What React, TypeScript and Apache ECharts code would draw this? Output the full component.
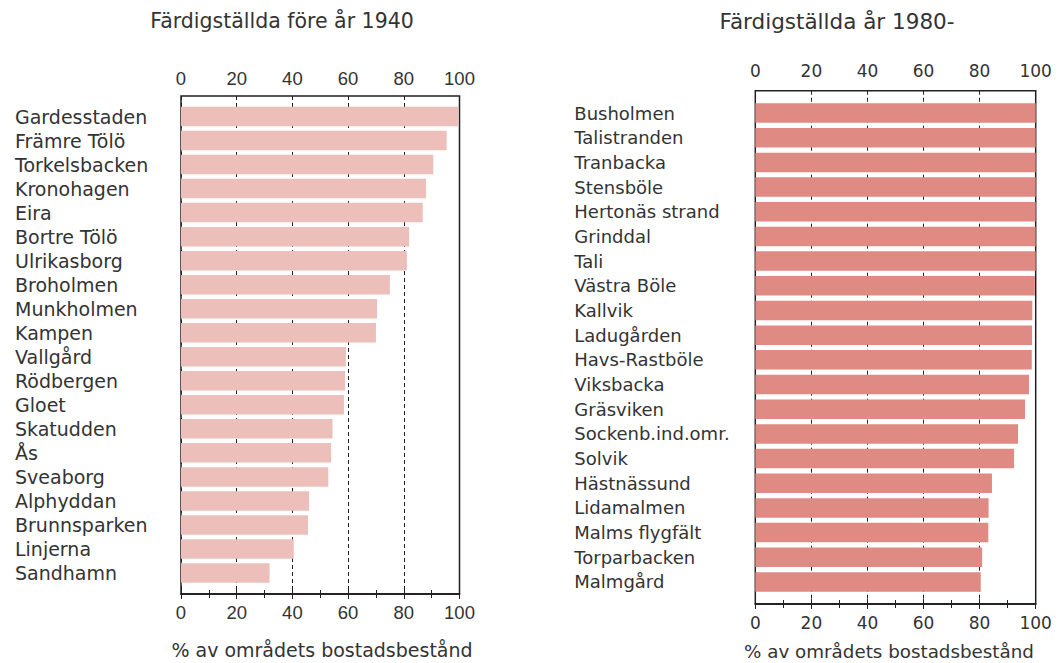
import React, { useEffect, useRef } from "react";
import * as echarts from "echarts";

const leftTitle = "Färdigställda före år 1940";
const rightTitle = "Färdigställda år 1980-";
const axisTitle = "% av områdets bostadsbestånd";

const leftCats = [
  "Gardesstaden", "Främre Tölö", "Torkelsbacken", "Kronohagen", "Eira",
  "Bortre Tölö", "Ulrikasborg", "Broholmen", "Munkholmen", "Kampen",
  "Vallgård", "Rödbergen", "Gloet", "Skatudden", "Ås",
  "Sveaborg", "Alphyddan", "Brunnsparken", "Linjerna", "Sandhamn",
];
const leftVals = [
  99.6, 95.4, 90.6, 88.0, 86.8,
  81.9, 81.1, 75.0, 70.4, 70.0,
  59.2, 58.9, 58.5, 54.4, 53.9,
  52.9, 46.0, 45.6, 40.5, 31.8,
];

const rightCats = [
  "Busholmen", "Talistranden", "Tranbacka", "Stensböle", "Hertonäs strand",
  "Grinddal", "Tali", "Västra Böle", "Kallvik", "Ladugården",
  "Havs-Rastböle", "Viksbacka", "Gräsviken", "Sockenb.ind.omr.", "Solvik",
  "Hästnässund", "Lidamalmen", "Malms flygfält", "Torparbacken", "Malmgård",
];
const rightVals = [
  100, 100, 100, 100, 100,
  100, 100, 99.7, 98.8, 98.7,
  98.6, 97.6, 96.2, 93.7, 92.3,
  84.4, 83.2, 83.1, 80.9, 80.4,
];

const axisMin = 0;
const axisMax = 100;
const axisStep = 20;

const frameColor = "#231f20";
const textColor = "#333333";

function boxAxis(gridIndex: number, position: string, font: string, size: number, margin: number, split: boolean) {
  return {
    type: "value",
    gridIndex,
    position,
    min: axisMin,
    max: axisMax,
    interval: axisStep,
    axisLine: { show: true, lineStyle: { color: frameColor, width: 1.5 } },
    axisTick: { show: true, inside: true, length: 5, lineStyle: { color: frameColor, width: 1 } },
    minorTick: { show: true, splitNumber: 2, length: 4, lineStyle: { color: frameColor, width: 1 } },
    splitLine: split
      ? { show: true, lineStyle: { color: frameColor, width: 1, type: [4, 3] } }
      : { show: false },
    axisLabel: { color: textColor, fontFamily: font, fontSize: size, margin },
  };
}

export default function App() {
  const ref = useRef<HTMLDivElement>(null);
  useEffect(() => {
    if (!ref.current) return;
    const chart = echarts.init(ref.current, null, { renderer: "svg" });
    const option = {
      animation: false,
      grid: [
        { left: 181, top: 96, width: 278.5, height: 498, show: true, borderColor: frameColor, borderWidth: 1.5, backgroundColor: "transparent" },
        { left: 181, top: 104.5, width: 278.5, height: 480.5 },
        { left: 755.3, top: 90.7, width: 280.4, height: 513.3, show: true, borderColor: frameColor, borderWidth: 1.5, backgroundColor: "transparent" },
        { left: 755.3, top: 100.7, width: 280.4, height: 493.6 },
      ],
      xAxis: [
        boxAxis(0, "top", "Liberation Sans", 18.5, 8, true),
        boxAxis(0, "bottom", "Liberation Sans", 18.5, 9, false),
        { type: "value", gridIndex: 1, min: axisMin, max: axisMax, show: false },
        boxAxis(2, "top", "DejaVu Sans", 17, 11, true),
        boxAxis(2, "bottom", "DejaVu Sans", 17, 10, false),
        { type: "value", gridIndex: 3, min: axisMin, max: axisMax, show: false },
      ],
      yAxis: [
        { type: "value", gridIndex: 0, show: false },
        {
          type: "category", gridIndex: 1, data: leftCats, inverse: true,
          axisLine: { show: false }, axisTick: { show: false }, splitLine: { show: false },
          axisLabel: { interval: 0, hideOverlap: false, align: "left", margin: 166, color: textColor, fontFamily: "DejaVu Sans", fontSize: 19 },
        },
        { type: "value", gridIndex: 2, show: false },
        {
          type: "category", gridIndex: 3, data: rightCats, inverse: true,
          axisLine: { show: false }, axisTick: { show: false }, splitLine: { show: false },
          axisLabel: { interval: 0, hideOverlap: false, align: "left", margin: 181, color: textColor, fontFamily: "DejaVu Sans", fontSize: 18 },
        },
      ],
      series: [
        { type: "bar", xAxisIndex: 2, yAxisIndex: 1, data: leftVals, barWidth: 19.5, itemStyle: { color: "#ecbfba" } },
        { type: "bar", xAxisIndex: 5, yAxisIndex: 3, data: rightVals, barWidth: 19.5, itemStyle: { color: "#df8a82" } },
      ],
      graphic: [
        { type: "text", x: 282, y: 21, style: { text: leftTitle, align: "center", verticalAlign: "middle", fill: textColor, font: "20.5px 'DejaVu Sans'" } },
        { type: "text", x: 837, y: 21, style: { text: rightTitle, align: "center", verticalAlign: "middle", fill: textColor, font: "21.5px 'DejaVu Sans'" } },
        { type: "text", x: 322, y: 650, style: { text: axisTitle, align: "center", verticalAlign: "middle", fill: textColor, font: "19px 'DejaVu Sans'" } },
        { type: "text", x: 889, y: 651, style: { text: axisTitle, align: "center", verticalAlign: "middle", fill: textColor, font: "18.3px 'DejaVu Sans'" } },
      ],
    };
    chart.setOption(option as any);
    return () => chart.dispose();
  }, []);
  return <div ref={ref} style={{ position: "absolute", left: 0, top: 0, width: 1061, height: 663, background: "#fff" }} />;
}
